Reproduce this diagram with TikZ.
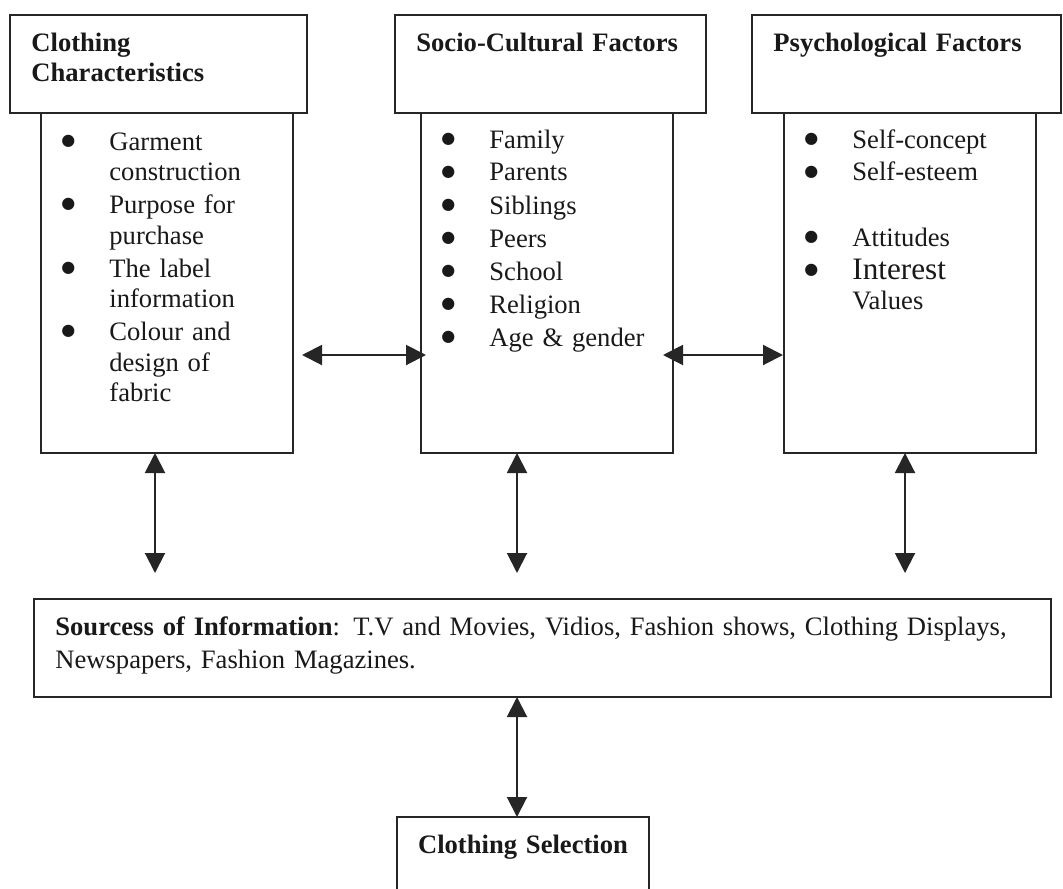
\documentclass[tikz,border=0pt]{standalone}
\usepackage{fontspec}
\setmainfont{Liberation Serif}
\newfontfamily\bulletfont{DejaVu Sans}
\usetikzlibrary{arrows.meta}

\newcommand{\boxbodyfont}{\fontsize{13.3}{15.25}\selectfont}
\newcommand{\boxheadfont}{\fontsize{13.3}{14.75}\selectfont\bfseries}
\newcommand{\nl}{\hfil\break}
% one bulleted entry, wrapped lines hang under the text
\newcommand{\bul}[1]{\noindent\hangindent=34pt\hangafter=1
    \makebox[34pt][l]{\hspace{10pt}\raisebox{2.3pt}{\bulletfont\fontsize{8}{9}\selectfont ●}}#1\setlength{\parskip}{1.25pt}\par}

\begin{document}
\begin{tikzpicture}[x=0.5pt, y=-0.5pt,
    box/.style={draw=black!85, line width=1pt, inner sep=0pt, outer sep=0pt, minimum height=49pt},
    body/.style={draw=black!85, line width=1pt, inner sep=0pt, outer sep=0pt, minimum width=126pt, minimum height=170pt},
    head/.style={anchor=base west, inner sep=0pt, text width=140pt, align=left, text=black!90, font=\boxheadfont},
    list/.style={anchor=base west, inner sep=0pt, text width=126pt, align=left, text=black!90, font=\boxbodyfont},
    biarrow/.style={draw=black!85, line width=1pt, {Triangle[length=10pt,width=10pt]}-{Triangle[length=10pt,width=10pt]}}]

    \useasboundingbox (0,0) rectangle (1063,888);
    \fill[white] (0,0) rectangle (1063,888);
    \clip (0,0) rectangle (1063,888);

    % top row of boxes
    \node[box, minimum width=148.5pt] (clothHead) at (158.5,64) {};
    \node[body] (clothBody) at (167,283) {};
    \node[box, minimum width=155.5pt] (socioHead) at (550.5,64) {};
    \node[body] (socioBody) at (547,283) {};
    \node[box, minimum width=154.5pt] (psychHead) at (906.5,64) {};
    \node[body] (psychBody) at (910,283) {};

    \node[head] (clothTitle) at ([shift={(21,37)}]clothHead.north west) {Clothing\\Characteristics};
    \node[head] (socioTitle) at ([shift={(21,37)}]socioHead.north west) {Socio-Cultural Factors};
    \node[head] (psychTitle) at ([shift={(21,37)}]psychHead.north west) {Psychological Factors};

    \node[list] (clothList) at ([shift={(0,37)}]clothBody.north west) {%
        \bul{Garment\nl construction}\bul{Purpose for\nl purchase}%
        \bul{The label\nl information}\bul{Colour and\nl design of\nl fabric}};
    \node[list] (socioList) at ([shift={(0,35)}]socioBody.north west) {%
        \bul{Family}\bul{Parents}\bul{Siblings}\bul{Peers}%
        \bul{School}\bul{Religion}\bul{Age \& gender}};
    \node[list] (psychList) at ([shift={(0,35)}]psychBody.north west) {%
        \bul{Self-concept}\bul{Self-esteem}\vspace{16pt}%
        \bul{Attitudes}\bul{{\fontsize{15.6}{17}\selectfont Interest}\nl Values}};

    % bottom boxes
    \node[box, minimum width=508.5pt] (srcBox) at (542.5,648) {};
    \node[list, text width=480pt] (srcText) at ([shift={(21,36)}]srcBox.north west) {%
        \textbf{Sourcess of Information}: T.V and Movies, Vidios, Fashion shows, Clothing Displays,\\[1.25pt]
        Newspapers, Fashion Magazines.};
    \node[box, minimum width=126pt] (selBox) at (523,866) {};
    \node[head, anchor=base, text width=126pt, align=center] (selText) at ([yshift=-18pt]selBox.north) {Clothing Selection};

    % connectors
    \draw[biarrow] ([shift={(9,72)}]clothBody.east) -- ([shift={(5,72)}]socioBody.west);
    \draw[biarrow] ([shift={(-10,72)}]socioBody.east) -- ([shift={(-1,72)}]psychBody.west);
    \draw[biarrow] ([xshift=-6pt]clothBody.south) -- ++(0,120);
    \draw[biarrow] ([xshift=-15pt]socioBody.south) -- ++(0,120);
    \draw[biarrow] ([xshift=-2.5pt]psychBody.south) -- ++(0,120);
    \draw[biarrow] ([xshift=-12.75pt]srcBox.south) -- ([xshift=-3pt]selBox.north);

\end{tikzpicture}
\end{document}
